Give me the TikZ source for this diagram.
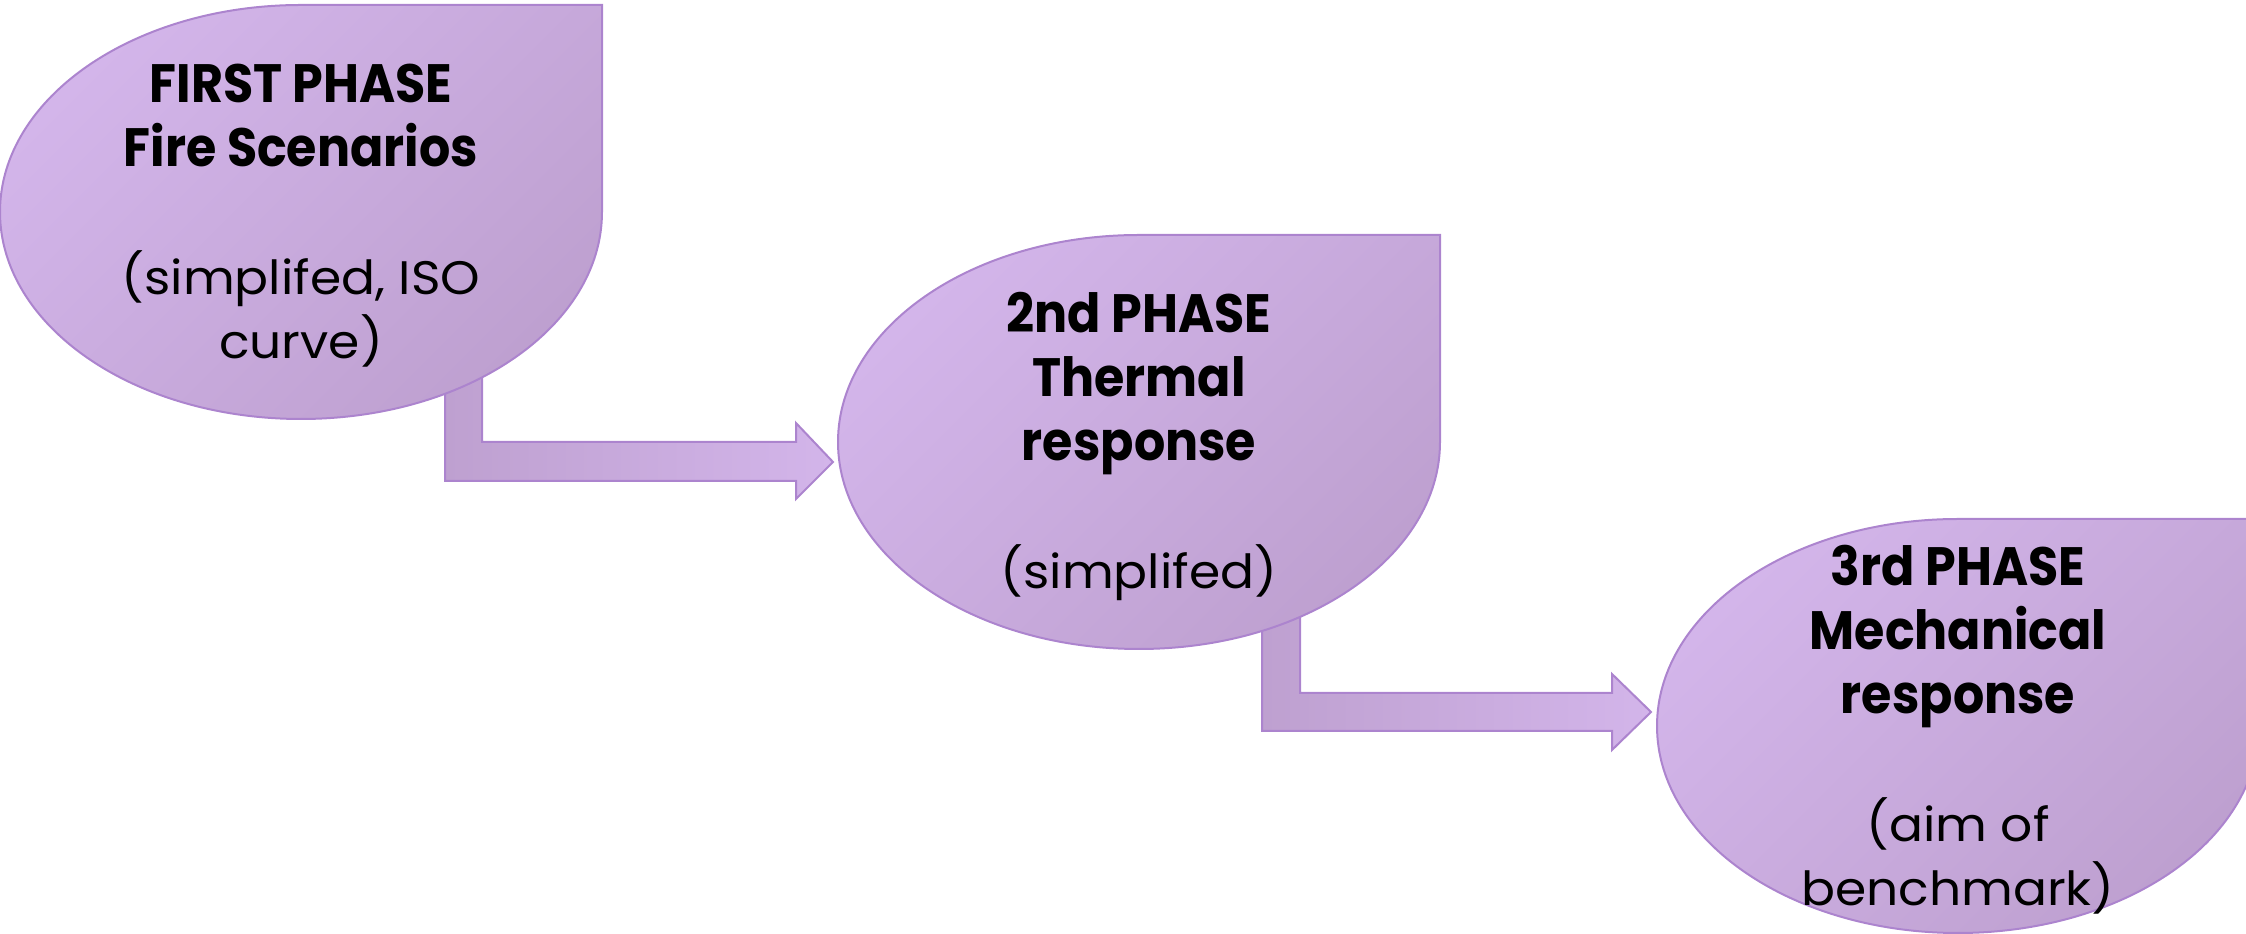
\documentclass[tikz,border=0pt]{standalone}
\usepackage{fontspec}
\setmainfont{Poppins}
\newfontfamily\phbold{Poppins}[FakeStretch=0.91]
\newfontfamily\phreg{Poppins}[FakeStretch=1.07]
\usetikzlibrary{calc}

\definecolor{lavlight}{RGB}{211,181,234}
\definecolor{lavdark}{RGB}{190,160,208}
\definecolor{lavedge}{RGB}{172,132,206}

\tikzset{
  phase/.style={draw=lavedge, line width=2pt, top color=lavlight,
    bottom color=lavdark, shading angle=45},
  bendarrow/.style={draw=lavedge, line width=2pt, left color=lavdark,
    right color=lavlight, line join=miter},
  phasetext/.style={align=center, inner sep=0pt, text=black, yshift=-4pt,
    font=\phbold\bfseries\fontsize{54}{64}\selectfont},
}
% regular-weight note lines under each phase title
\newcommand\phnote[1]{{\phreg\mdseries\fontsize{47}{64}\selectfont #1}}
% ellipse whose upper right quarter is a square corner
\newcommand\phaseshape[1]{%
  \path[phase] ($(#1)+(0,207)$) -- ($(#1)+(301,207)$) -- ($(#1)+(301,0)$)
    arc[start angle=0, end angle=-270, x radius=301pt, y radius=207pt] -- cycle;}

\begin{document}
\begin{tikzpicture}[x=1pt,y=1pt]
\useasboundingbox (0,0) rectangle (2246,934);
\clip (0,0) rectangle (2246,934);

\coordinate (c1) at (301,722);
\coordinate (c2) at (1139,492);
\coordinate (c3) at (1958,208);

% bent block arrows (drawn first, so the shapes cover their stems)
\path[bendarrow] ($(c1)+(144,-118)$) -- ($(c1)+(181,-118)$) -- ($(c1)+(181,-230)$)
  -- ($(c2)+(-343,0)$) -- ($(c2)+(-343,19)$) -- ($(c2)+(-306,-20)$)
  -- ($(c2)+(-343,-57)$) -- ($(c2)+(-343,-39)$) -- ($(c1)+(144,-269)$) -- cycle;
\path[bendarrow] ($(c2)+(123,-118)$) -- ($(c2)+(161,-118)$) -- ($(c2)+(161,-251)$)
  -- ($(c3)+(-346,33)$) -- ($(c3)+(-346,52)$) -- ($(c3)+(-307,14)$)
  -- ($(c3)+(-346,-24)$) -- ($(c3)+(-346,-5)$) -- ($(c2)+(123,-289)$) -- cycle;

% phase shapes
\phaseshape{c1}
\phaseshape{c2}
\phaseshape{c3}

% phase texts
\node[phasetext] (p1) at (c1) {FIRST PHASE\\Fire Scenarios\\[64pt]\phnote{(simplifed, ISO}\\\phnote{curve)}};
\node[phasetext] (p2) at (c2) {2nd PHASE\\Thermal\\response\\[64pt]\phnote{(simplifed)}};
\node[phasetext] (p3) at (c3) {3rd PHASE\\Mechanical\\response\\[64pt]\phnote{(aim of}\\\phnote{benchmark)}};
\end{tikzpicture}
\end{document}
